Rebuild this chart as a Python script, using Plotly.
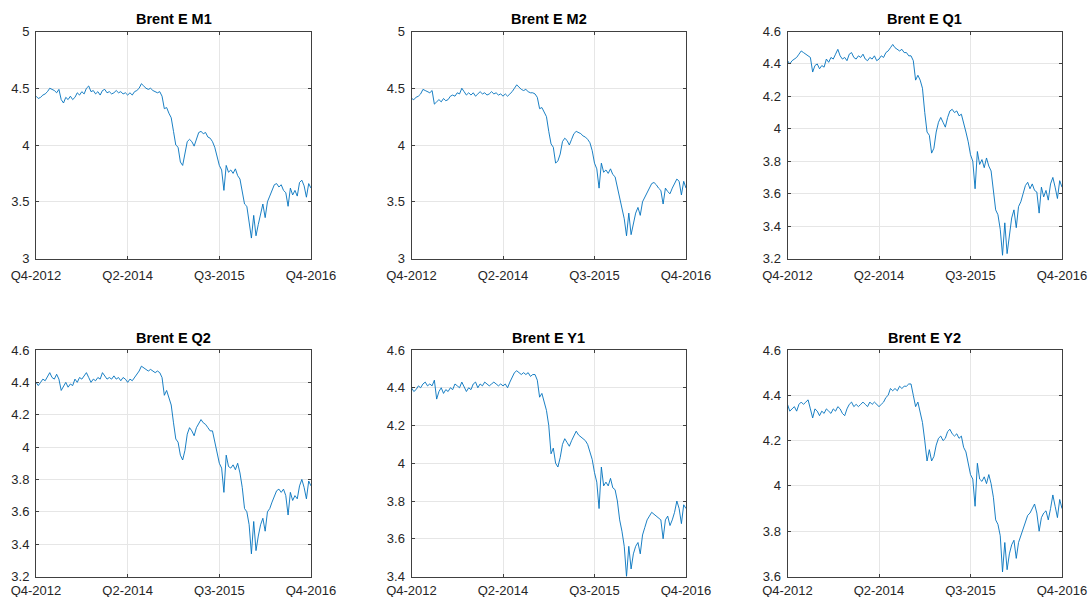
import plotly.graph_objects as go

# Observation index (one value per step) and quarter tick labels
obs = list(range(121))
tick_pos = [0, 40, 80, 120]
tick_labels = ["Q4-2012", "Q2-2014", "Q3-2015", "Q4-2016"]

brent_m1 = [4.43, 4.41, 4.42, 4.44, 4.45, 4.47, 4.50, 4.49, 4.48, 4.46, 4.49, 4.40, 4.37, 4.42, 4.40, 4.43, 4.40, 4.42, 4.46, 4.44,
            4.47, 4.45, 4.50, 4.52, 4.47, 4.48, 4.45, 4.47, 4.44, 4.48, 4.49, 4.46, 4.47, 4.45, 4.46, 4.48, 4.46, 4.47, 4.45, 4.46,
            4.44, 4.46, 4.44, 4.47, 4.48, 4.50, 4.54, 4.52, 4.50, 4.49, 4.50, 4.48, 4.47, 4.46, 4.47, 4.43, 4.32, 4.33, 4.28, 4.24,
            4.12, 4.00, 3.98, 3.85, 3.82, 3.93, 4.03, 4.05, 4.03, 3.99, 4.06, 4.11, 4.12, 4.10, 4.11, 4.07, 4.06, 4.03, 3.98, 3.90,
            3.82, 3.78, 3.60, 3.82, 3.76, 3.78, 3.75, 3.79, 3.73, 3.70, 3.60, 3.48, 3.46, 3.30, 3.18, 3.38, 3.20, 3.30, 3.38, 3.48,
            3.36, 3.50, 3.55, 3.60, 3.65, 3.66, 3.63, 3.65, 3.60, 3.58, 3.46, 3.62, 3.56, 3.60, 3.55, 3.67, 3.69, 3.64, 3.54, 3.66,
            3.62]

brent_m2 = [4.41, 4.40, 4.42, 4.43, 4.45, 4.49, 4.48, 4.47, 4.46, 4.48, 4.36, 4.38, 4.40, 4.38, 4.41, 4.39, 4.40, 4.43, 4.44, 4.43,
            4.46, 4.45, 4.50, 4.47, 4.44, 4.46, 4.44, 4.46, 4.43, 4.45, 4.47, 4.45, 4.46, 4.44, 4.45, 4.47, 4.45, 4.46, 4.44, 4.45,
            4.43, 4.45, 4.43, 4.45, 4.47, 4.50, 4.53, 4.51, 4.49, 4.48, 4.49, 4.47, 4.46, 4.46, 4.45, 4.42, 4.32, 4.33, 4.29, 4.25,
            4.12, 4.01, 3.98, 3.84, 3.86, 3.92, 4.03, 4.06, 4.04, 4.00, 4.05, 4.10, 4.12, 4.11, 4.10, 4.08, 4.07, 4.05, 4.02, 3.95,
            3.84, 3.79, 3.62, 3.84, 3.76, 3.78, 3.75, 3.79, 3.74, 3.72, 3.62, 3.52, 3.45, 3.35, 3.20, 3.40, 3.21, 3.31, 3.40, 3.45,
            3.38, 3.50, 3.54, 3.58, 3.63, 3.66, 3.67, 3.65, 3.62, 3.60, 3.48, 3.62, 3.59, 3.57, 3.62, 3.66, 3.70, 3.68, 3.56, 3.68,
            3.62]

brent_q1 = [4.42, 4.40, 4.42, 4.43, 4.44, 4.46, 4.48, 4.47, 4.46, 4.45, 4.44, 4.35, 4.39, 4.40, 4.37, 4.39, 4.38, 4.43, 4.41, 4.44,
            4.43, 4.46, 4.49, 4.45, 4.43, 4.44, 4.42, 4.46, 4.47, 4.44, 4.43, 4.45, 4.44, 4.46, 4.43, 4.42, 4.44, 4.43, 4.45, 4.42,
            4.43, 4.45, 4.44, 4.47, 4.48, 4.50, 4.52, 4.50, 4.49, 4.48, 4.49, 4.47, 4.47, 4.45, 4.45, 4.42, 4.30, 4.33, 4.30, 4.25,
            4.10, 3.98, 3.96, 3.85, 3.88, 3.98, 4.04, 4.07, 4.04, 4.01, 4.07, 4.11, 4.12, 4.10, 4.11, 4.08, 4.09, 4.04, 3.98, 3.92,
            3.84, 3.80, 3.63, 3.86, 3.78, 3.81, 3.76, 3.82, 3.77, 3.74, 3.62, 3.50, 3.47, 3.38, 3.22, 3.42, 3.23, 3.35, 3.45, 3.50,
            3.39, 3.52, 3.55, 3.60, 3.65, 3.67, 3.63, 3.66, 3.62, 3.61, 3.48, 3.64, 3.58, 3.62, 3.56, 3.66, 3.70, 3.64, 3.57, 3.68,
            3.64]

brent_q2 = [4.40, 4.38, 4.40, 4.42, 4.41, 4.44, 4.46, 4.43, 4.42, 4.45, 4.42, 4.35, 4.38, 4.40, 4.37, 4.39, 4.38, 4.42, 4.40, 4.43,
            4.42, 4.44, 4.46, 4.43, 4.40, 4.42, 4.41, 4.43, 4.42, 4.46, 4.44, 4.42, 4.43, 4.42, 4.44, 4.42, 4.43, 4.41, 4.43, 4.42,
            4.40, 4.42, 4.41, 4.43, 4.45, 4.47, 4.50, 4.49, 4.48, 4.47, 4.48, 4.47, 4.46, 4.47, 4.46, 4.43, 4.32, 4.35, 4.30, 4.26,
            4.15, 4.05, 4.03, 3.95, 3.92, 3.98, 4.08, 4.12, 4.10, 4.07, 4.12, 4.15, 4.17, 4.15, 4.14, 4.12, 4.10, 4.10, 4.04, 3.96,
            3.90, 3.87, 3.72, 3.95, 3.88, 3.87, 3.89, 3.86, 3.90, 3.84, 3.75, 3.62, 3.60, 3.52, 3.34, 3.54, 3.36, 3.45, 3.52, 3.56,
            3.48, 3.60, 3.62, 3.66, 3.70, 3.73, 3.74, 3.72, 3.74, 3.70, 3.58, 3.72, 3.67, 3.70, 3.68, 3.76, 3.80, 3.75, 3.68, 3.79,
            3.76]

brent_y1 = [4.40, 4.38, 4.39, 4.41, 4.40, 4.42, 4.43, 4.41, 4.42, 4.41, 4.44, 4.34, 4.38, 4.40, 4.37, 4.39, 4.38, 4.40, 4.39, 4.42,
            4.41, 4.40, 4.43, 4.40, 4.38, 4.40, 4.39, 4.42, 4.43, 4.40, 4.42, 4.41, 4.43, 4.42, 4.41, 4.42, 4.43, 4.42, 4.41, 4.42,
            4.41, 4.42, 4.40, 4.43, 4.46, 4.48, 4.49, 4.48, 4.47, 4.48, 4.47, 4.48, 4.46, 4.47, 4.47, 4.44, 4.35, 4.37, 4.32, 4.28,
            4.20, 4.05, 4.08, 4.00, 3.98, 4.03, 4.10, 4.13, 4.11, 4.09, 4.12, 4.15, 4.17, 4.15, 4.14, 4.13, 4.12, 4.10, 4.06, 4.02,
            3.95, 3.90, 3.76, 3.98, 3.88, 3.90, 3.88, 3.92, 3.87, 3.86, 3.80, 3.70, 3.64, 3.56, 3.40, 3.56, 3.44, 3.52, 3.56, 3.58,
            3.52, 3.62, 3.66, 3.70, 3.72, 3.74, 3.73, 3.72, 3.71, 3.70, 3.60, 3.70, 3.72, 3.67, 3.70, 3.74, 3.80, 3.76, 3.68, 3.78,
            3.76]

brent_y2 = [4.36, 4.33, 4.34, 4.35, 4.33, 4.36, 4.37, 4.36, 4.37, 4.38, 4.34, 4.30, 4.34, 4.33, 4.31, 4.33, 4.32, 4.34, 4.33, 4.32,
            4.34, 4.33, 4.35, 4.34, 4.32, 4.31, 4.34, 4.36, 4.37, 4.35, 4.36, 4.35, 4.36, 4.37, 4.36, 4.35, 4.37, 4.36, 4.37, 4.36,
            4.35, 4.36, 4.37, 4.39, 4.40, 4.43, 4.42, 4.43, 4.42, 4.44, 4.43, 4.44, 4.44, 4.45, 4.45, 4.40, 4.35, 4.37, 4.33, 4.28,
            4.20, 4.11, 4.16, 4.11, 4.13, 4.18, 4.21, 4.22, 4.20, 4.21, 4.24, 4.25, 4.23, 4.22, 4.23, 4.21, 4.22, 4.17, 4.15, 4.10,
            4.05, 4.03, 3.91, 4.10, 4.03, 4.02, 4.04, 4.01, 4.05, 4.01, 3.95, 3.85, 3.83, 3.78, 3.62, 3.75, 3.63, 3.70, 3.74, 3.76,
            3.68, 3.75, 3.78, 3.80, 3.84, 3.87, 3.88, 3.90, 3.92, 3.88, 3.80, 3.86, 3.88, 3.89, 3.85, 3.90, 3.96, 3.91, 3.86, 3.94,
            3.90]

titles = ["Brent E M1", "Brent E M2", "Brent E Q1", "Brent E Q2", "Brent E Y1", "Brent E Y2"]
series = [brent_m1, brent_m2, brent_q1, brent_q2, brent_y1, brent_y2]
y_ranges = [(3.0, 5.0), (3.0, 5.0), (3.2, 4.6), (3.2, 4.6), (3.4, 4.6), (3.6, 4.6)]
y_steps = [0.5, 0.5, 0.2, 0.2, 0.2, 0.2]

W, H = 1088, 597
col_px = [(36, 311), (411.5, 686), (787.5, 1062)]
row_px = [(31.5, 258.5), (350, 576.5)]
x_label_gap = [5, 2]

AX_COLOR = "#404040"
TXT_COLOR = "#262626"
GRID_COLOR = "#e6e6e6"
FONT = "Liberation Sans, Arial, Helvetica, sans-serif"

fig = go.Figure()
for k, (name, vals) in enumerate(zip(titles, series)):
    r, c = divmod(k, 3)
    x0, x1 = col_px[c]
    yt, yb = row_px[r]
    xd = [x0 / W, x1 / W]
    yd = [1 - yb / H, 1 - yt / H]
    sfx = "" if k == 0 else str(k + 1)
    fig.add_trace(go.Scatter(
        x=obs, y=vals, mode="lines",
        line=dict(color="#0072BD", width=0.9),
        xaxis="x" + sfx, yaxis="y" + sfx, showlegend=False,
    ))
    lo, hi = y_ranges[k]
    step = y_steps[k]
    n = int(round((hi - lo) / step))
    yticks = [round(lo + i * step, 2) for i in range(n + 1)]
    ytext = [("%g" % v) for v in yticks]
    common = dict(
        showline=True, linecolor=AX_COLOR, linewidth=1, mirror="ticks",
        ticks="inside", ticklen=3, tickcolor=AX_COLOR, tickwidth=1,
        showgrid=True, gridcolor=GRID_COLOR, gridwidth=1,
        zeroline=False, automargin=False,
        tickfont=dict(family=FONT, size=13, color=TXT_COLOR),
        fixedrange=True,
    )
    fig.update_layout(**{
        "xaxis" + sfx: dict(
            domain=xd, range=[obs[0], obs[-1]], anchor="y" + sfx,
            tickmode="array", tickvals=tick_pos, ticktext=tick_labels,
            ticklabelstandoff=x_label_gap[r], **common),
        "yaxis" + sfx: dict(
            domain=yd, range=[lo, hi], anchor="x" + sfx,
            tickmode="array", tickvals=yticks, ticktext=ytext,
            ticklabelstandoff=3, **common),
    })
    fig.add_annotation(
        text="<b>%s</b>" % name, xref="paper", yref="paper",
        x=(xd[0] + xd[1]) / 2, y=yd[1], yshift=2,
        xanchor="center", yanchor="bottom", showarrow=False,
        font=dict(family=FONT, size=14.5, color="#000000"),
    )

fig.update_layout(
    width=W, height=H,
    margin=dict(l=0, r=0, t=0, b=0),
    paper_bgcolor="white", plot_bgcolor="white",
)
fig.write_html("out.html", config={"displayModeBar": False})
